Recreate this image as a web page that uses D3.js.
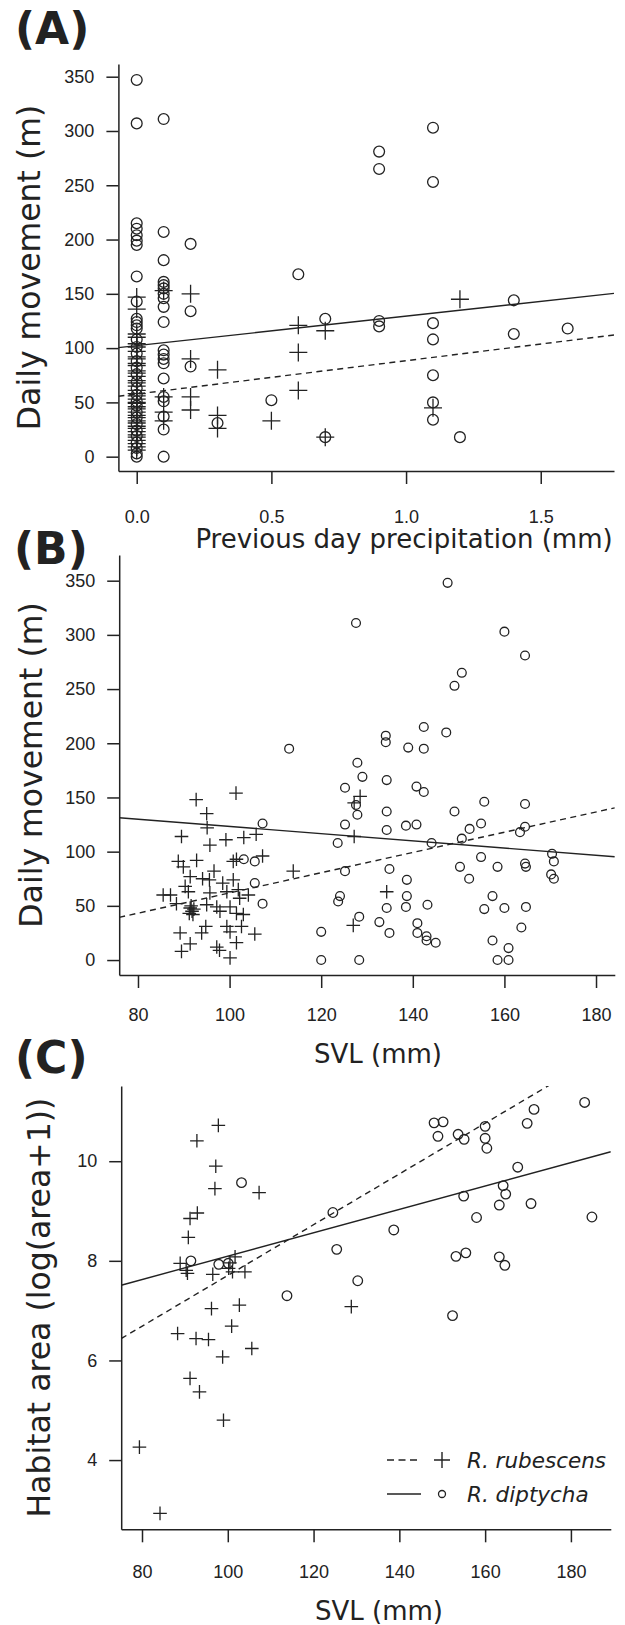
<!DOCTYPE html>
<html>
<head>
<meta charset="utf-8">
<script src="https://cdn.jsdelivr.net/npm/d3@7"></script>
<style>
  body { margin: 0; background: #fff; }
  text { fill: #222; }
</style>
</head>
<body>
<svg id="fig" width="625" height="1625"></svg>
<script>
// ---- data ----
// (A) previous day precipitation (mm) vs daily movement (m)
const moveRubescensA = [
  [0,147],[0,136],[0,113],[0,110],[0,104],[0,101],[0,97],[0,92],[0,90],[0,86],[0,84],[0,79],[0,77],
  [0,74],[0,70],[0,68],[0,65],[0,61],[0,58],[0,56],[0,53],[0,50],[0,49],[0,46],[0,44],[0,41],[0,38],
  [0,36],[0,33],[0,31],[0,28],[0,26],[0,23],[0,20],[0,18],[0,15],[0,12],[0,9],[0,6],
  [0.1,153],[0.1,55],[0.1,41],[0.1,33],
  [0.2,150],[0.2,90],[0.2,55],[0.2,43],
  [0.3,80],[0.3,38],[0.3,26],
  [0.5,33],
  [0.6,121],[0.6,96],[0.6,61],
  [0.7,116],[0.7,18],
  [1.1,45],
  [1.2,145]
];
const moveDiptychaA = [
  [0,347],[0,307],[0,215],[0,210],[0,204],[0,199],[0,195],[0,166],[0,143],[0,127],[0,124],[0,121],
  [0,118],[0,108],[0,101],[0,95],[0,88],[0,82],[0,76],[0,69],[0,63],[0,57],[0,51],[0,47],[0,41],
  [0,36],[0,30],[0,24],[0,19],[0,13],[0,8],[0,3],[0,0],
  [0.1,311],[0.1,207],[0.1,181],[0.1,161],[0.1,158],[0.1,155],[0.1,150],[0.1,146],[0.1,138],[0.1,124],
  [0.1,98],[0.1,94],[0.1,90],[0.1,86],[0.1,72],[0.1,55],[0.1,51],[0.1,37],[0.1,25],[0.1,0],
  [0.2,196],[0.2,134],[0.2,83],
  [0.3,31],
  [0.5,52],
  [0.6,168],
  [0.7,127],[0.7,18],
  [0.9,281],[0.9,265],[0.9,125],[0.9,120],
  [1.1,303],[1.1,253],[1.1,123],[1.1,108],[1.1,75],[1.1,50],[1.1,34],
  [1.2,18],
  [1.4,144],[1.4,113],
  [1.6,118]
];
// (B) SVL (mm) vs daily movement (m)
const moveRubescensB = [
  [101.4,154],[92.7,148],[95,135],[95.1,122],[89.5,114],[95.7,106],[99.2,111],[103.1,113],[105.8,116],
  [107.2,96],[113.9,82],[88.8,91],[89.9,86],[92.8,92],[91.4,77],[94.1,75],[95.6,74],[100.8,91],
  [101.5,93],[98.5,71],[100.8,74],[90.3,68],[91,63],[85.5,60],[87.1,60],[95.7,62],[99.4,63],
  [101.9,65],[104.1,60],[88.4,52],[91.4,48],[91.8,45],[91.2,43],[92.2,47],[91.6,50],[92,42],
  [95,51],[97.2,49],[97.9,45],[100.1,49],[101.5,43],[103,42],[99.4,31],[100.1,26],[102.6,31],
  [94.8,31],[93.9,25],[89.2,25],[91.4,15],[89.5,8],[97.2,12],[97.8,9],[100.1,2],[101.5,16],
  [105.5,24],[102.2,57],[96.6,82],[128.5,151],[127.2,145],[127.2,114],[134.3,63],[127,32]
];
const moveDiptychaB = [
  [107.2,126],[103.1,93],[105.5,91],[105.5,71],[107.2,52],[147.6,348],[127.6,311],[160,303],
  [164.5,281],[150.7,265],[149.1,253],[142.4,215],[147.3,210],[134.1,207],[134.1,201],[139,196],
  [142.4,195],[113,195],[127.9,182],[129,169],[134.3,166],[125.2,159],[140.8,160],[142.4,155],
  [127.6,143],[127.9,134],[134.3,137],[125.2,125],[134.3,120],[138.5,124],[140.8,125],[123.6,108],
  [144.1,108],[149.1,137],[155.6,146],[152.4,121],[154.9,126],[150.7,112],[164.5,144],[164.5,123],
  [163.4,118],[125.2,82],[134.9,84],[150.3,86],[154.9,95],[158.5,86],[152.3,75],[138.7,74],
  [124.1,59],[123.7,54],[138.7,59],[138.5,49],[134.3,48],[143.2,51],[128.3,40],[132.7,35],
  [134.9,25],[141,34],[141,25],[143,22],[143,18],[145,16],[120,26],[120,0],[128.3,0],[157.4,59],
  [155.6,47],[160,48],[157.4,18],[160.9,11],[158.5,0],[160.9,0],[164.7,49],[163.7,30],[164.5,89],
  [164.7,86],[170.4,98],[170.8,91],[170.2,79],[170.8,75]
];
// (C) SVL (mm) vs habitat area (log(area+1))
const areaRubescensC = [
  [97.8,10.72],[92.8,10.41],[97.2,9.9],[97,9.45],[107.3,9.37],[92.9,8.96],[91.2,8.85],[90.8,8.47],
  [88.9,7.95],[90.3,7.81],[90.6,7.75],[96.5,7.73],[100.5,7.96],[101.7,8.08],[101.1,7.78],[104,7.78],
  [100.2,7.85],[96.2,7.04],[102.7,7.11],[100.9,6.69],[88.3,6.54],[92.6,6.44],[95.5,6.42],[105.6,6.24],
  [98.8,6.07],[91.2,5.64],[93.4,5.37],[99,4.8],[79.4,4.26],[84.2,2.93],[128.8,7.08]
];
const areaDiptychaC = [
  [103.2,9.57],[91.4,8.0],[97.9,7.93],[100.1,7.95],[113.8,7.3],[124.5,8.97],[125.4,8.23],[130.3,7.6],
  [138.7,8.62],[148.1,10.77],[150.2,10.79],[149,10.5],[153.7,10.54],[155.1,10.44],[160,10.7],
  [160,10.46],[160.4,10.26],[169.8,10.76],[171.4,11.04],[183.2,11.18],[167.6,9.88],[164.2,9.51],
  [164.8,9.34],[155,9.3],[163.3,9.12],[170.7,9.15],[158,8.87],[184.9,8.88],[153.2,8.09],[155.5,8.16],
  [163.3,8.08],[164.6,7.91],[152.4,6.9]
];
// fitted lines: [intercept, slope]
const fitA = {rubescens: [57.7, 30.7], diptycha: [102.25, 27.2]};
const fitB = {rubescens: [-31.5, 0.934], diptycha: [156.55, -0.3327]};
const fitC = {rubescens: [2.61, 0.05096], diptycha: [5.746, 0.02348]};
// ticks and labels
const moveTicks = [0, 50, 100, 150, 200, 250, 300, 350];
const precipTicks = [0, 0.5, 1.0, 1.5];
const svlTicks = [80, 100, 120, 140, 160, 180];
const areaTicks = [4, 6, 8, 10];
const speciesNames = ["R. rubescens", "R. diptycha"];

(() => {
    let svg = d3.select("svg#fig"),
        ink = "#222",
        tickFont = "'Liberation Sans', Arial, sans-serif",
        labelFont = "'DejaVu Sans', Verdana, sans-serif";

    let panels = [
        {tag: "(A)", tagX: 15, tagY: 44, left: 118.4, right: 614, top: 64, bottom: 471,
         xd: [-0.068, 1.772], yd: [-13.2, 361.7], xt: precipTicks, yt: moveTicks, xf: d3.format(".1f"),
         xpad: 26, xlab: "Previous day precipitation (mm)", xlabX: 404, xlabY: 548,
         ylab: "Daily movement (m)", ylabX: 40,
         rub: moveRubescensA, dip: moveDiptychaA, fit: fitA, r: 5.4, c: 9},
        {tag: "(B)", tagX: 14, tagY: 564, left: 119.2, right: 614.8, top: 555, bottom: 975,
         xd: [75.9, 184.1], yd: [-13.8, 373.7], xt: svlTicks, yt: moveTicks, xf: d3.format("d"),
         xpad: 20.5, xlab: "SVL (mm)", xlabX: 378, xlabY: 1063,
         ylab: "Daily movement (m)", ylabX: 42,
         rub: moveRubescensB, dip: moveDiptychaB, fit: fitB, r: 4.4, c: 6.8},
        {tag: "(C)", tagX: 15, tagY: 1073, left: 121.2, right: 610.8, top: 1086, bottom: 1529.3,
         xd: [75.15, 189.3], yd: [2.61, 11.51], xt: svlTicks, yt: areaTicks, xf: d3.format("d"),
         xpad: 23, xlab: "SVL (mm)", xlabX: 379, xlabY: 1620,
         ylab: "Habitat area (log(area+1))", ylabX: 50,
         rub: areaRubescensC, dip: areaDiptychaC, fit: fitC, r: 4.8, c: 6.8}
    ];

    panels.forEach((p, i) => {
        let x = d3.scaleLinear().domain(p.xd).range([p.left, p.right]),
            y = d3.scaleLinear().domain(p.yd).range([p.bottom, p.top]),
            g = svg.append("g");

        // clip region for the fitted lines
        g.append("clipPath").attr("id", "clip" + i)
            .append("rect")
            .attr("x", p.left).attr("y", p.top)
            .attr("width", p.right - p.left).attr("height", p.bottom - p.top);

        g.append("g")
            .attr("transform", "translate(0," + p.bottom + ")")
            .call(d3.axisBottom(x).tickValues(p.xt).tickSize(13).tickSizeOuter(0).tickPadding(p.xpad).tickFormat(p.xf));

        g.append("g")
            .attr("transform", "translate(" + p.left + ",0)")
            .call(d3.axisLeft(y).tickValues(p.yt).tickSize(12).tickSizeOuter(0).tickPadding(12));

        g.selectAll(".domain, .tick line").attr("stroke", ink).attr("stroke-width", 1.5);
        g.selectAll(".tick text")
            .attr("font-family", tickFont)
            .attr("font-size", 18)
            .attr("fill", ink);

        // regression lines
        Object.keys(p.fit).forEach(sp => {
            let [a, b] = p.fit[sp];
            g.append("line")
                .attr("clip-path", "url(#clip" + i + ")")
                .attr("x1", x(p.xd[0])).attr("y1", y(a + b * p.xd[0]))
                .attr("x2", x(p.xd[1])).attr("y2", y(a + b * p.xd[1]))
                .attr("stroke", ink)
                .attr("stroke-width", 1.4)
                .attr("stroke-dasharray", sp === "rubescens" ? "6,4.5" : null);
        });

        g.selectAll(".dip")
            .data(p.dip)
            .enter().append("circle")
            .attr("class", "dip")
            .attr("cx", d => x(d[0]))
            .attr("cy", d => y(d[1]))
            .attr("r", p.r)
            .attr("fill", "none")
            .attr("stroke", ink)
            .attr("stroke-width", 1.3);

        g.selectAll(".rub")
            .data(p.rub)
            .enter().append("path")
            .attr("class", "rub")
            .attr("transform", d => "translate(" + x(d[0]) + "," + y(d[1]) + ")")
            .attr("d", "M" + (-p.c) + ",0H" + p.c + "M0," + (-p.c) + "V" + p.c)
            .attr("stroke", ink)
            .attr("stroke-width", 1.3);

        g.append("text")
            .attr("x", p.xlabX).attr("y", p.xlabY)
            .attr("text-anchor", "middle")
            .attr("font-family", labelFont)
            .attr("font-size", 26)
            .text(p.xlab);

        g.append("text")
            .attr("transform", "translate(" + p.ylabX + "," + (p.top + p.bottom) / 2 + ") rotate(-90)")
            .attr("text-anchor", "middle")
            .attr("font-family", labelFont)
            .attr("font-size", 31.5)
            .text(p.ylab);

        g.append("text")
            .attr("x", p.tagX).attr("y", p.tagY)
            .attr("font-family", labelFont)
            .attr("font-weight", "bold")
            .attr("font-size", 44)
            .text(p.tag);

        // legend only in panel C
        if (i === 2) {
            let legend = g.selectAll(".legend")
                .data(speciesNames)
                .enter().append("g")
                .attr("class", "legend")
                .attr("transform", (d, k) => "translate(0," + (1460 + k * 34) + ")");

            legend.append("line")
                .attr("x1", 387).attr("x2", 421)
                .attr("stroke", ink).attr("stroke-width", 1.4)
                .attr("stroke-dasharray", (d, k) => k === 0 ? "7,4.5" : null);

            legend.filter((d, k) => k === 0).append("path")
                .attr("d", "M434,0H450M442,-8V8")
                .attr("stroke", ink).attr("stroke-width", 1.4);

            legend.filter((d, k) => k === 1).append("circle")
                .attr("cx", 442).attr("r", 3.5)
                .attr("fill", "none").attr("stroke", ink).attr("stroke-width", 1.3);

            legend.append("text")
                .attr("x", 467)
                .attr("dy", "0.36em")
                .attr("font-family", labelFont)
                .attr("font-style", "italic")
                .attr("font-size", 21.5)
                .text(d => d);
        }
    });
})();
</script>
</body>
</html>
